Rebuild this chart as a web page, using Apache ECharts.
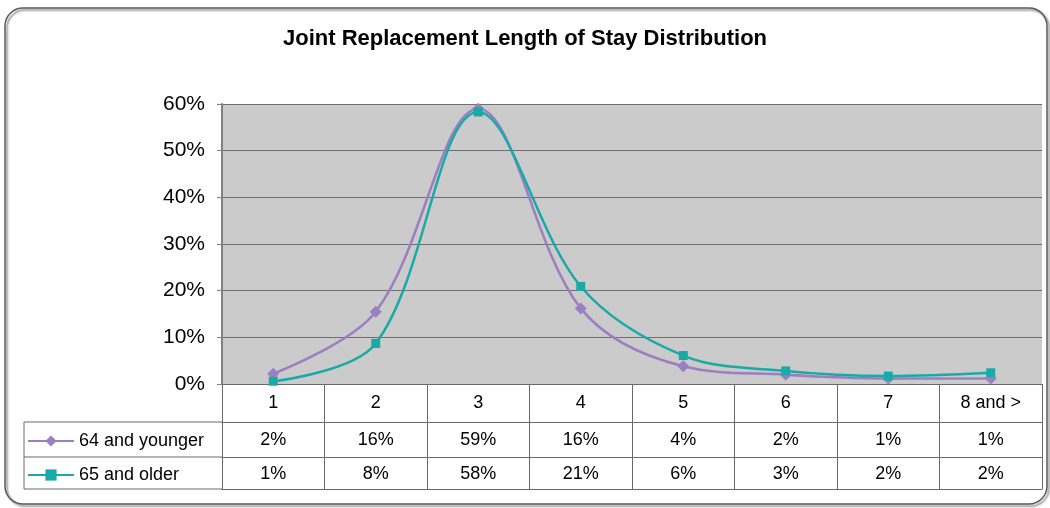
<!DOCTYPE html>
<html>
<head>
<meta charset="utf-8">
<script src="https://cdn.jsdelivr.net/npm/echarts@6/dist/echarts.min.js"></script>
<style>
html,body{margin:0;padding:0;background:#fff;}
#c{width:1050px;height:508px;}
</style>
</head>
<body>
<div id="c"></div>
<script>
var categories = ['1', '2', '3', '4', '5', '6', '7', '8 and >'];
var seriesNames = ['64 and younger', '65 and older'];
var younger = [2.2, 15.5, 59.0, 16.2, 3.8, 2.0, 1.2, 1.2];
var older = [0.6, 8.7, 58.3, 20.9, 6.1, 2.8, 1.7, 2.4];
var youngerLabels = ['2%', '16%', '59%', '16%', '4%', '2%', '1%', '1%'];
var olderLabels = ['1%', '8%', '58%', '21%', '6%', '3%', '2%', '2%'];
var yTicks = [0, 10, 20, 30, 40, 50, 60];

var FONT = '"Liberation Sans", Arial, sans-serif';
var LINE = '#6a6a6a';
var PURPLE = '#9b7fc0';
var TEAL = '#19aaa7';

var chart = echarts.init(document.getElementById('c'));

function tableAxis(labels, offset, margin, showLabels) {
  return {
    type: 'category',
    data: categories,
    position: 'bottom',
    offset: offset,
    boundaryGap: true,
    axisLine: { show: true, lineStyle: { color: LINE, width: 1 } },
    axisTick: { show: false },
    splitLine: { show: false },
    axisLabel: {
      show: showLabels,
      interval: 0,
      margin: margin,
      fontFamily: FONT,
      fontSize: 18,
      color: '#000',
      formatter: function (v, i) { return labels ? labels[i] : v; }
    }
  };
}

var mainX = tableAxis(null, 0, 10, true);
mainX.axisTick = { show: true, interval: 0, length: 105, lineStyle: { color: LINE, width: 1 } };

chart.setOption({
  animation: false,
  backgroundColor: '#fff',
  title: {
    text: 'Joint Replacement Length of Stay Distribution',
    left: 'center',
    top: 23,
    textStyle: { fontFamily: FONT, fontSize: 22, fontWeight: 'bold', color: '#000' }
  },
  legend: {
    orient: 'vertical',
    left: 27,
    top: 432,
    padding: 0,
    itemWidth: 46,
    itemHeight: 14,
    itemGap: 16,
    data: seriesNames,
    textStyle: { fontFamily: FONT, fontSize: 18, color: '#000' },
    selectedMode: false
  },
  grid: { left: 222, right: 8, top: 104, bottom: 124, containLabel: false,
          show: true, backgroundColor: '#cbcbcb', borderWidth: 0 },
  xAxis: [
    mainX,
    tableAxis(youngerLabels, 38, 9, true),
    tableAxis(olderLabels, 73, 8, true),
    tableAxis(null, 105, 8, false)
  ],
  yAxis: {
    type: 'value',
    min: 0,
    max: 60,
    interval: 10,
    axisLine: { show: true, lineStyle: { color: '#808080', width: 2 } },
    axisTick: { show: true, length: 5, lineStyle: { color: '#808080' } },
    splitLine: { show: true, lineStyle: { color: '#6f6f6f', width: 1 } },
    axisLabel: {
      fontFamily: FONT, fontSize: 21, color: '#000', margin: 17,
      formatter: function (v) { return yTicks.indexOf(v) >= 0 ? v + '%' : ''; }
    }
  },
  series: [
    {
      name: seriesNames[0],
      type: 'line',
      data: younger,
      smooth: 0.35,
      symbol: 'diamond',
      symbolSize: 12,
      lineStyle: { color: PURPLE, width: 2.5 },
      itemStyle: { color: PURPLE },
      z: 3
    },
    {
      name: seriesNames[1],
      type: 'line',
      data: older,
      smooth: 0.35,
      symbol: 'rect',
      symbolSize: 9,
      lineStyle: { color: TEAL, width: 2.5 },
      itemStyle: { color: TEAL },
      z: 4
    }
  ],
  graphic: [
    {
      type: 'rect',
      shape: { x: 5, y: 8, width: 1042, height: 496, r: 18 },
      style: { fill: 'none', stroke: '#5a5a5a', lineWidth: 1.5,
               shadowColor: 'rgba(0,0,0,0.5)', shadowOffsetX: 2, shadowOffsetY: 2, shadowBlur: 2 },
      silent: true, z: -10
    },
    {
      type: 'polyline',
      shape: { points: [[222, 422], [24, 422], [24, 489], [222, 489]] },
      style: { fill: 'none', stroke: LINE, lineWidth: 1 },
      silent: true
    },
    {
      type: 'line',
      shape: { x1: 24, y1: 457, x2: 222, y2: 457 },
      style: { stroke: LINE, lineWidth: 1 },
      silent: true
    }
  ]
});
</script>
</body>
</html>
